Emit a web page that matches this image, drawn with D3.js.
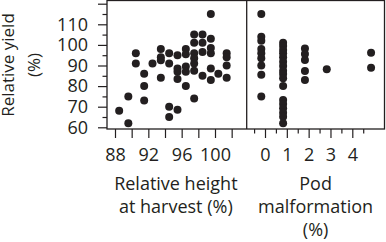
<!DOCTYPE html>
<html lang="en">
  <head>
    <meta charset="UTF-8" />
    <title>Relative yield</title>
    <style>
      body {
        margin: 0;
        background: #fff;
      }
      svg text {
        font-family: "Open Sans", "Noto Sans", sans-serif;
        fill: #231f20;
      }
      .axis path {
        display: none;
      }
      .axis line {
        stroke: #231f20;
        stroke-width: 1.2;
      }
    </style>
  </head>
  <body>
    <div class="chart"></div>
    <script src="https://d3js.org/d3.v7.min.js"></script>
    <script>
      // tick labels
      const yTicks = [60, 70, 80, 90, 100, 110];
      const heightTicks = [88, 92, 96, 100];
      const podTicks = [0, 1, 2, 3, 4];

      // relative height at harvest (%) vs relative yield (%)
      const heightPoints = [
        [88.5, 68], [89.6, 62], [89.6, 75], [90.5, 96], [90.5, 91],
        [91.5, 86], [91.5, 80], [91.5, 73], [92.5, 91],
        [93.5, 98], [93.5, 94], [93.5, 92.5], [93.5, 84],
        [94.5, 96], [94.5, 91], [94.5, 70], [94.5, 65],
        [95.5, 95], [95.5, 88.5], [95.5, 87], [95.5, 83.5], [95.5, 68.5],
        [96.5, 98], [96.5, 95.5], [96.5, 89.5], [96.5, 87], [96.5, 80],
        [97.5, 105], [97.5, 101], [97.5, 96], [97.5, 93.5], [97.5, 91], [97.5, 87.5], [97.5, 74],
        [98.5, 105], [98.5, 101], [98.5, 96.5], [98.5, 85],
        [99.5, 115], [99.5, 103], [99.5, 98.5], [99.5, 96], [99.5, 88.5], [99.5, 83],
        [100.4, 86], [101.4, 96], [101.4, 94], [101.4, 90], [101.4, 84]
      ];

      // pod malformation (%) vs relative yield (%)
      const podPoints = [
        [-0.17, 115], [-0.17, 104], [-0.17, 102], [-0.17, 98], [-0.17, 96],
        [-0.17, 93.5], [-0.17, 90], [-0.17, 85.5], [-0.17, 75],
        [0.83, 101.1], [0.83, 99.5], [0.83, 97.5], [0.83, 95.9], [0.83, 94],
        [0.83, 91.8], [0.83, 89.8], [0.83, 87.5], [0.83, 85.9], [0.83, 83.8],
        [0.83, 80], [0.83, 73.3], [0.83, 71.3], [0.83, 69.2], [0.83, 67.1],
        [0.83, 65.1], [0.83, 62],
        [1.83, 98.3], [1.83, 95.6], [1.83, 92.7], [1.83, 87.3], [1.83, 83],
        [2.83, 88.2],
        [4.86, 96.2], [4.86, 88.9]
      ];

      const w = 386;
      const h = 242;
      const fontSize = 18;
      const box = { left: 107, right: 384.5, top: 0.5, bottom: 129, split: 246.7 };

      const svg = d3
        .select(".chart")
        .append("svg")
        .attr("width", w)
        .attr("height", h);

      const y = d3.scaleLinear().domain([60, 110]).range([127.3, 24.3]);
      const xHeight = d3.scaleLinear().domain([88, 100]).range([115, 215]);
      const xPod = d3.scaleLinear().domain([0, 4]).range([265, 352.3]);

      // y axis, major ticks every 10, minor every 5
      const yAxis = d3
        .axisLeft(y)
        .tickValues(d3.range(60, 121, 5))
        .tickSize(9)
        .tickFormat((d) => (yTicks.includes(d) ? d : ""));

      const yG = svg
        .append("g")
        .attr("class", "axis")
        .attr("transform", `translate(${box.left},0)`)
        .call(yAxis);
      yG.selectAll(".tick line").attr("x2", (d) => (d % 10 === 0 ? -9 : -4.5));
      yG.selectAll(".tick text")
        .attr("x", -19)
        .attr("font-size", fontSize);

      // bottom axis, left panel
      const hAxis = d3
        .axisBottom(xHeight)
        .tickValues(d3.range(88, 103, 2))
        .tickSize(9)
        .tickFormat((d) => (heightTicks.includes(d) ? d : ""));

      const hG = svg
        .append("g")
        .attr("class", "axis")
        .attr("transform", `translate(0,${box.bottom})`)
        .call(hAxis);
      hG.selectAll(".tick text").attr("y", 19).attr("font-size", fontSize);

      // bottom axis, right panel
      const pAxis = d3
        .axisBottom(xPod)
        .tickValues(d3.range(-0.5, 4.6, 0.5))
        .tickSize(9)
        .tickFormat((d) => (podTicks.includes(d) ? d : ""));

      const pG = svg
        .append("g")
        .attr("class", "axis")
        .attr("transform", `translate(0,${box.bottom})`)
        .call(pAxis);
      pG.selectAll(".tick line").attr("y2", (d) => (Number.isInteger(d) ? 9 : 4.5));
      pG.selectAll(".tick text").attr("y", 19).attr("font-size", fontSize);

      // frame
      svg
        .append("rect")
        .attr("x", box.left)
        .attr("y", box.top)
        .attr("width", box.right - box.left)
        .attr("height", box.bottom - box.top)
        .attr("fill", "none")
        .attr("stroke", "#231f20")
        .attr("stroke-width", 1.3);

      svg
        .append("line")
        .attr("x1", box.split)
        .attr("x2", box.split)
        .attr("y1", box.top)
        .attr("y2", box.bottom)
        .attr("stroke", "#231f20")
        .attr("stroke-width", 1.3);

      // dots
      const r = 4;
      svg
        .append("g")
        .selectAll("circle")
        .data(heightPoints)
        .enter()
        .append("circle")
        .attr("cx", (d) => xHeight(d[0]))
        .attr("cy", (d) => y(d[1]))
        .attr("r", r)
        .attr("fill", "#231f20");

      svg
        .append("g")
        .selectAll("circle")
        .data(podPoints)
        .enter()
        .append("circle")
        .attr("cx", (d) => xPod(d[0]))
        .attr("cy", (d) => y(d[1]))
        .attr("r", r)
        .attr("fill", "#231f20");

      // axis titles
      const yTitle = svg
        .append("text")
        .attr("transform", "translate(0,65) rotate(-90)")
        .attr("text-anchor", "middle")
        .attr("font-size", 17);
      yTitle.append("tspan").attr("x", 0).attr("y", 13.5).text("Relative yield");
      yTitle.append("tspan").attr("x", 0).attr("y", 40).text("(%)");

      const leftMid = (box.left + box.split) / 2 - 1;
      const rightMid = (box.split + box.right) / 2;

      const hTitle = svg
        .append("text")
        .attr("text-anchor", "middle")
        .attr("font-size", fontSize);
      hTitle.append("tspan").attr("x", leftMid).attr("y", 190).text("Relative height");
      hTitle.append("tspan").attr("x", leftMid).attr("y", 212.5).text("at harvest (%)");

      const pTitle = svg
        .append("text")
        .attr("text-anchor", "middle")
        .attr("font-size", fontSize);
      pTitle.append("tspan").attr("x", rightMid).attr("y", 190).text("Pod");
      pTitle.append("tspan").attr("x", rightMid).attr("y", 212.5).text("malformation");
      pTitle.append("tspan").attr("x", rightMid).attr("y", 236).text("(%)");
    </script>
  </body>
</html>
